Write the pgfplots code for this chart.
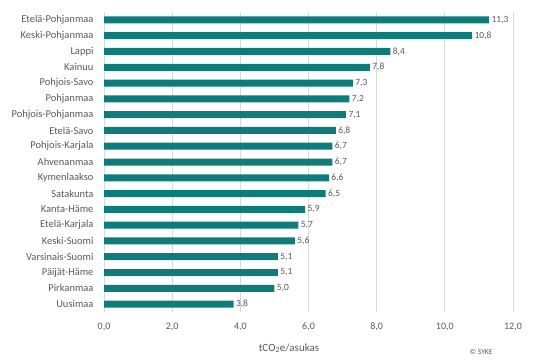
\documentclass[border=0pt]{standalone}
\usepackage{pgfplots}
\pgfplotsset{compat=1.18}
\usepackage{fontspec}
\setmainfont{Carlito}
\definecolor{barc}{HTML}{0E7C7B}
\definecolor{txt}{HTML}{595959}
\definecolor{grd}{HTML}{D9D9D9}
\begin{document}
\begin{tikzpicture}
\useasboundingbox (0,0) rectangle (556pt,360pt);
\begin{axis}[
  at={(104pt,48pt)}, anchor=south west,
  scale only axis, width=409pt, height=300pt,
  xbar, bar width=7pt,
  xmin=0, xmax=12, ymin=-0.5, ymax=18.5,
  axis line style={draw=none},
  xtick={0,2,...,12},
  xmajorgrids, grid style={grd, line width=0.8pt},
  ytick={0,...,18},
  yticklabels={Uusimaa,Pirkanmaa,Päijät-Häme,Varsinais-Suomi,Keski-Suomi,Etelä-Karjala,Kanta-Häme,Satakunta,Kymenlaakso,Ahvenanmaa,Pohjois-Karjala,Etelä-Savo,Pohjois-Pohjanmaa,Pohjanmaa,Pohjois-Savo,Kainuu,Lappi,Keski-Pohjanmaa,Etelä-Pohjanmaa},
  major tick length=0pt,
  xticklabel style={font=\fontsize{10}{12}\selectfont, text=txt, yshift=-7pt},
  yticklabel style={font=\fontsize{10.5}{12}\selectfont, text=txt, xshift=-7pt},
  /pgf/number format/assume math mode=true,
  xticklabel={\pgfmathprintnumber[fixed,fixed zerofill,precision=1,use comma]{\tick}},
  nodes near coords={\pgfmathprintnumber[fixed,fixed zerofill,precision=1,use comma,assume math mode=true]{\pgfplotspointmeta}},
  nodes near coords style={font=\fontsize{9.5}{11}\selectfont, text=txt, anchor=west, xshift=-1pt},
  point meta=explicit,
  clip=false,
]
\addplot[fill=barc, draw=none] coordinates {
(3.8,0) [3.8]
(5.0,1) [5.0]
(5.1,2) [5.1]
(5.1,3) [5.1]
(5.6,4) [5.6]
(5.7,5) [5.7]
(5.9,6) [5.9]
(6.5,7) [6.5]
(6.6,8) [6.6]
(6.7,9) [6.7]
(6.7,10) [6.7]
(6.8,11) [6.8]
(7.1,12) [7.1]
(7.2,13) [7.2]
(7.3,14) [7.3]
(7.8,15) [7.8]
(8.4,16) [8.4]
(10.8,17) [10.8]
(11.3,18) [11.3]
};
\end{axis}
\node[text=txt, font=\fontsize{11}{13}\selectfont] at (289pt,12pt) {tCO\textsubscript{2}e/asukas};
\node[text=txt, font=\fontsize{7.5}{9}\selectfont, anchor=east] at (496pt,8pt) {\textcopyright{} SYKE};
\end{tikzpicture}
\end{document}
